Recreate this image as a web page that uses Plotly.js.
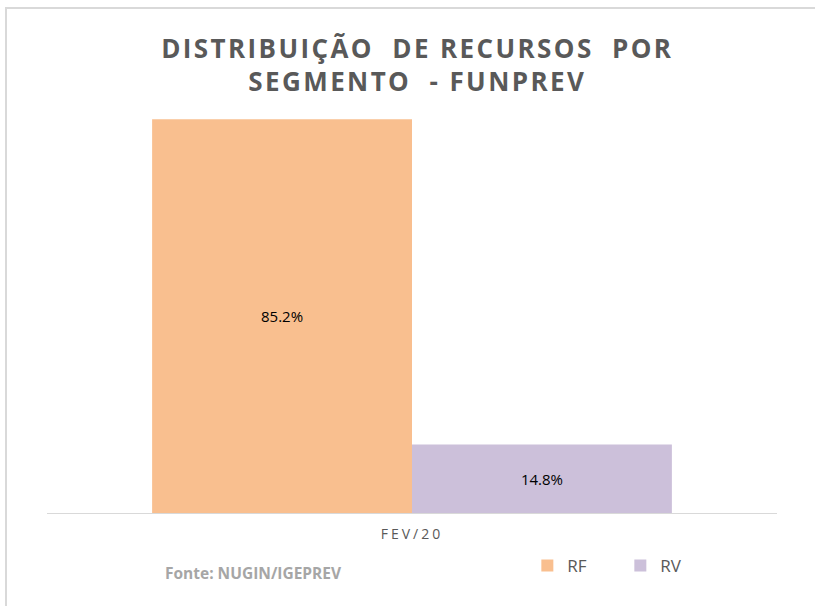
<!DOCTYPE html>
<html><head><meta charset="utf-8">
<script src="https://cdn.plot.ly/plotly-3.0.1.min.js"></script>
<style>
body{margin:0;padding:0;background:#fff;overflow:hidden;}
#wrap{position:relative;width:815px;height:606px;}
#frame{position:absolute;left:5px;top:7px;width:830px;height:640px;border:2px solid #d9d9d9;box-sizing:border-box;pointer-events:none;}
#chart{position:absolute;left:0;top:0;width:815px;height:606px;}
.gtitle{letter-spacing:2.4px;}
.xtick text{letter-spacing:3px;}
</style>
</head><body>
<div id="wrap"><div id="chart"></div><div id="frame"></div></div>
<script>
const categories = ["FEV/20"];
const seriesNames = ["RF", "RV"];
const rfValues = [85.2];
const rvValues = [14.8];
const colors = ["#F9BF8F", "#CCC0DA"];

const traces = [rfValues, rvValues].map((vals, i) => ({
  type: 'bar',
  name: seriesNames[i],
  x: categories,
  y: vals,
  marker: {color: colors[i]},
  text: vals.map(v => v.toFixed(1) + '%'),
  textposition: 'inside',
  insidetextanchor: 'middle',
  textfont: {family: 'Open Sans, sans-serif', size: 15, color: '#000'},
  hoverinfo: 'none'
}));

const layout = {
  width: 815, height: 606,
  margin: {l: 47, r: 38, t: 97, b: 93},
  paper_bgcolor: 'rgba(0,0,0,0)',
  plot_bgcolor: 'rgba(0,0,0,0)',
  barmode: 'group',
  bargap: 0.288,
  bargroupgap: 0,
  showlegend: true,
  title: {
    text: '<b>DISTRIBUIÇÃO  DE RECURSOS  POR<br>SEGMENTO  - FUNPREV</b>',
    font: {family: 'Open Sans, sans-serif', size: 26, color: '#595959'},
    x: 0.512, xanchor: 'center', xref: 'container',
    y: 0.905, yanchor: 'top', yref: 'container'
  },
  xaxis: {
    type: 'category',
    showline: true, linecolor: '#d9d9d9', linewidth: 1,
    showgrid: false, zeroline: false, ticks: '',
    tickfont: {family: 'Open Sans, sans-serif', size: 14, color: '#595959'},
    ticklabelstandoff: 8
  },
  yaxis: {range: [0, 90], visible: false, showgrid: false, zeroline: false},
  legend: {
    orientation: 'h', x: 0.658, xanchor: 'left', y: -0.127, yanchor: 'middle',
    font: {family: 'Open Sans, sans-serif', size: 17, color: '#595959'},
    entrywidth: 48, entrywidthmode: 'pixels',
    traceorder: 'normal', bgcolor: 'rgba(0,0,0,0)'
  },
  annotations: [{
    text: '<b>Fonte: NUGIN/IGEPREV</b>',
    xref: 'paper', yref: 'paper', x: 0.159, y: -0.144,
    xanchor: 'left', yanchor: 'middle', showarrow: false,
    font: {family: 'Open Sans, sans-serif', size: 15.5, color: '#A6A6A6'}
  }]
};

Plotly.newPlot('chart', traces, layout, {displayModeBar: false, staticPlot: true});
</script>
</body></html>
